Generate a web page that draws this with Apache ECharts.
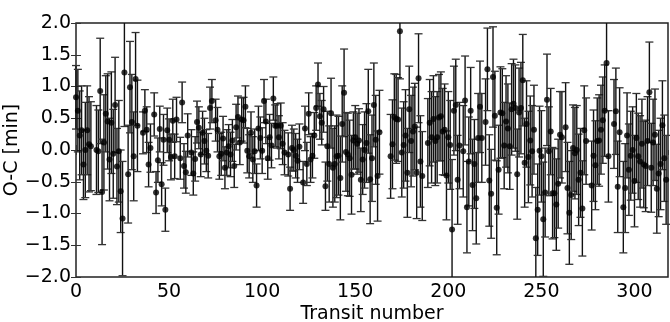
<!DOCTYPE html>
<html>
<head>
<meta charset="utf-8">
<script src="https://cdn.jsdelivr.net/npm/echarts@6/dist/echarts.min.js"></script>
<style>
html,body{margin:0;padding:0;background:#fff;}
#chart{width:670px;height:322px;}
</style>
</head>
<body>
<div id="chart"></div>
<script>
// Transit numbers (x)
const transitNumbers = [
  0,1,2,3,4,5,6,7,8,
  11,12,13,14,15,16,17,18,19,20,21,22,23,24,25,26,
  28,29,30,31,32,33,
  36,37,38,39,40,42,43,44,45,46,47,48,49,50,51,52,
  53,54,56,57,58,59,60,62,63,64,65,66,67,68,69,70,71,72,73,75,76,77,78,79,80,
  81,82,83,84,85,86,87,88,89,90,91,92,93,94,95,96,97,98,99,100,101,102,103,104,
  105,106,107,108,109,110,111,112,114,115,116,117,118,119,120,122,123,124,125,126,127,128,
  129,130,131,132,133,134,135,136,137,138,139,140,141,142,143,144,145,146,147,148,
  149,150,151,152,153,154,155,156,157,158,159,160,161,162,163,
  169,170,171,172,173,174,175,176,177,178,179,180,181,182,183,184,185,186,
  189,190,191,192,193,194,195,196,197,198,199,200,201,202,203,204,205,206,208,209,
  210,211,212,213,214,215,216,217,218,220,221,222,223,224,225,226,227,228,229,230,
  231,232,233,234,235,236,237,238,239,240,241,242,243,244,245,246,247,248,249,250,
  251,252,253,254,255,256,257,258,259,260,261,
  263,264,265,266,267,268,269,270,271,272,273,274,277,278,279,280,281,282,283,284,285,286,
  289,290,291,292,294,295,296,297,298,299,300,301,302,303,304,305,306,307,308,309,
  310,311,312,313,314,315,316,317
];
// O-C values [min]
const ocValues = [
  0.83,0.62,0.23,0.31,-0.23,0.0,0.31,0.09,0.06,
  0.0,-0.02,0.93,-0.66,0.12,0.57,0.45,-0.15,0.43,-0.06,0.71,-0.26,-0.02,-0.65,-1.08,1.22,
  -0.38,0.99,0.44,-0.1,1.12,0.38,
  0.27,0.62,0.32,-0.23,0.03,0.56,-0.67,-0.16,0.33,-0.54,0.16,-0.94,0.31,0.16,-0.11,0.46,
  -0.1,0.48,-0.13,0.75,-0.25,-0.35,0.23,-0.04,-0.37,-0.14,0.44,0.35,-0.07,0.27,0.14,-0.01,-0.09,0.66,0.77,0.47,0.32,-0.1,-0.06,0.18,-0.28,
  -0.04,0.06,-0.07,0.15,-0.25,0.36,0.52,0.12,0.48,0.47,0.68,-0.01,-0.1,0.27,-0.15,-0.02,-0.56,0.34,0.19,-0.01,0.77,0.45,-0.13,0.2,
  0.07,0.81,0.38,0.38,0.2,0.38,0.1,-0.04,-0.07,-0.61,0.03,0.0,-0.09,-0.17,0.05,-0.51,0.34,-0.22,0.57,-0.15,-0.09,0.23,
  0.66,1.03,0.53,0.43,0.64,-0.57,0.06,-0.22,0.58,-0.28,-0.22,-0.1,-0.09,-0.44,0.41,0.9,-0.03,-0.07,-0.13,-0.39,
  0.15,0.2,0.1,0.15,-0.47,-0.15,0.0,0.11,0.61,-0.46,-0.13,0.71,0.16,-0.41,0.28,
  -0.1,0.09,0.52,0.49,0.48,1.87,-0.04,0.08,0.23,-0.36,0.64,0.14,0.29,0.37,-0.36,1.13,-0.18,-0.41,
  0.11,0.43,0.2,0.49,0.14,0.2,0.51,0.53,0.29,0.32,-0.4,0.2,0.08,-1.25,0.62,0.71,-0.47,0.07,-0.02,0.78,
  -0.9,-0.18,0.62,-0.55,-0.22,-0.76,0.19,0.68,0.19,0.44,1.27,-0.48,-0.69,1.15,0.54,-0.91,-0.31,0.59,0.58,0.07,
  0.45,0.34,0.06,0.64,0.73,0.66,-0.38,0.59,0.66,1.1,-0.2,0.41,-0.11,0.15,-0.02,0.32,-1.39,-0.94,-0.01,-0.1,
  -1.09,-0.67,0.79,-0.02,0.29,-0.68,-0.68,-0.86,-0.53,0.24,0.2,
  0.36,-0.6,-0.99,-0.71,0.03,-0.05,0.0,-0.47,-0.36,-0.92,0.31,0.14,-0.56,-0.09,-0.24,0.14,0.15,0.32,0.47,0.62,1.37,-0.1,
  0.41,0.61,-0.58,0.28,-0.9,-0.6,0.23,-0.31,-0.09,0.0,-0.49,0.19,-0.1,-0.18,0.1,-0.23,-0.25,0.14,0.91,-0.28,
  0.12,0.24,-0.61,-0.37,-0.22,0.39,-0.13,-0.47
];
// 1-sigma uncertainties [min]
const ocErrors = [
  0.5,0.65,0.7,0.7,0.55,0.75,0.7,0.75,0.7,
  0.7,0.65,0.83,0.83,0.75,0.6,0.75,0.65,0.8,0.7,0.75,0.6,0.8,0.65,0.9,0.85,
  0.77,0.72,0.75,0.7,0.73,0.72,
  0.33,0.33,0.36,0.35,0.38,0.34,0.33,0.35,0.36,0.34,0.4,0.34,0.35,0.33,0.36,0.34,
  0.35,0.35,0.33,0.32,0.35,0.33,0.34,0.36,0.34,0.35,0.33,0.33,0.35,0.34,0.36,0.33,0.35,0.33,0.34,0.33,0.35,0.36,0.34,0.35,0.33,
  0.36,0.34,0.35,0.33,0.34,0.36,0.33,0.35,0.34,0.36,0.33,0.35,0.34,0.33,0.36,0.35,0.34,0.35,0.33,0.36,0.34,0.35,0.33,0.36,
  0.35,0.34,0.33,0.35,0.34,0.36,0.33,0.35,0.34,0.34,0.36,0.33,0.35,0.34,0.36,0.33,0.35,0.34,0.33,0.36,0.35,0.36,
  0.35,0.34,0.36,0.35,0.36,0.38,0.55,0.6,0.55,0.62,0.6,0.65,0.62,0.66,0.6,0.69,0.62,0.65,0.6,0.62,
  0.45,0.5,0.48,0.5,0.5,0.55,0.6,0.62,0.66,0.7,0.68,0.66,0.7,0.71,0.66,
  0.66,0.7,0.68,0.7,0.66,0.75,0.7,0.68,0.72,0.7,0.68,0.72,0.7,0.68,0.72,0.7,0.72,0.7,
  0.7,0.68,0.72,0.68,0.7,0.72,0.68,0.7,0.68,0.72,0.7,0.72,0.7,1.1,0.7,0.72,0.7,0.68,0.72,0.7,
  0.72,0.7,0.68,0.72,0.7,0.72,0.7,0.72,0.7,0.68,0.65,0.72,0.7,0.79,0.7,0.74,0.7,0.72,0.7,0.68,
  0.72,0.7,0.68,0.72,0.7,0.68,0.71,0.7,0.72,0.72,0.7,0.68,0.72,0.7,0.72,0.7,0.8,0.72,0.7,0.72,
  0.9,0.7,0.72,0.7,0.68,0.72,0.7,0.72,0.7,0.68,0.72,
  0.7,0.72,0.81,0.7,0.68,0.72,0.7,0.72,0.7,0.75,0.7,0.68,0.7,0.72,0.7,0.68,0.72,0.7,0.68,0.72,0.75,0.72,
  0.7,0.68,0.72,0.7,0.72,0.7,0.67,0.72,0.7,0.68,0.72,0.7,0.68,0.72,0.7,0.68,0.72,0.7,0.79,0.7,
  0.68,0.72,0.7,0.68,0.72,0.7,0.68,0.7
];
// Axis settings / tick labels
const xRange = [0, 318];
const yRange = [-2, 2];
const xTickStep = 50;
const yTickStep = 0.5;
const xTitle = 'Transit number';
const yTitle = 'O-C [min]';

const points = transitNumbers.map((t, i) => [t, ocValues[i], ocErrors[i]]);

const FONT = 'DejaVu Sans';
const fmtY = v => (v < 0 ? '\u2212' : '') + Math.abs(v).toFixed(1);
const fmtX = v => (v % 50 === 0 ? String(v) : '');

const tickStyle = { inside: true, length: 5, lineStyle: { color: '#333', width: 1 } };

const chart = echarts.init(document.getElementById('chart'), null, { renderer: 'canvas' });
chart.setOption({
  animation: false,
  backgroundColor: '#fff',
  grid: {
    left: 76, right: 2, top: 23, bottom: 45,
    outerBoundsMode: 'none', containLabel: false,
    show: true, borderColor: '#222', borderWidth: 1.5, backgroundColor: 'transparent'
  },
  xAxis: [
    {
      type: 'value', min: xRange[0], max: xRange[1], interval: xTickStep, position: 'bottom',
      axisLine: { show: false }, axisTick: tickStyle, splitLine: { show: false },
      axisLabel: { formatter: fmtX, showMaxLabel: false, color: '#000', fontFamily: FONT, fontSize: 19, margin: 6 },
      name: xTitle, nameLocation: 'middle', nameGap: 28, nameMoveOverlap: false,
      nameTextStyle: { color: '#000', fontFamily: FONT, fontSize: 19 }
    },
    {
      type: 'value', min: xRange[0], max: xRange[1], interval: xTickStep, position: 'top',
      axisLine: { show: false }, axisTick: tickStyle, splitLine: { show: false }, axisLabel: { show: false }
    }
  ],
  yAxis: [
    {
      type: 'value', min: yRange[0], max: yRange[1], interval: yTickStep, position: 'left',
      axisLine: { show: false }, axisTick: tickStyle, splitLine: { show: false },
      axisLabel: { formatter: fmtY, color: '#000', fontFamily: FONT, fontSize: 19, margin: 5 },
      name: yTitle, nameLocation: 'middle', nameGap: 54, nameRotate: 90, nameMoveOverlap: false,
      nameTextStyle: { color: '#000', fontFamily: FONT, fontSize: 19 }
    },
    {
      type: 'value', min: yRange[0], max: yRange[1], interval: yTickStep, position: 'right',
      axisLine: { show: false }, axisTick: tickStyle, splitLine: { show: false }, axisLabel: { show: false }
    }
  ],
  series: [
    {
      type: 'custom',
      xAxisIndex: 0, yAxisIndex: 0,
      data: points,
      silent: true,
      renderItem: function (params, api) {
        const x = api.value(0), v = api.value(1), e = api.value(2);
        const top = api.coord([x, v + e]);
        const bot = api.coord([x, v - e]);
        const cs = params.coordSys;
        const yMin = cs.y, yMax = cs.y + cs.height;
        const px = top[0];
        const y1 = Math.max(top[1], yMin), y2 = Math.min(bot[1], yMax);
        const children = [{
          type: 'line',
          shape: { x1: px, y1: y1, x2: px, y2: y2 },
          style: { stroke: '#111', lineWidth: 1.4 }
        }];
        const cw = 4;
        if (top[1] >= yMin) {
          children.push({ type: 'line', shape: { x1: px - cw, y1: top[1], x2: px + cw, y2: top[1] }, style: { stroke: '#333', lineWidth: 1.3 } });
        }
        if (bot[1] <= yMax) {
          children.push({ type: 'line', shape: { x1: px - cw, y1: bot[1], x2: px + cw, y2: bot[1] }, style: { stroke: '#333', lineWidth: 1.3 } });
        }
        return { type: 'group', children: children };
      },
      z: 2
    },
    {
      type: 'scatter',
      xAxisIndex: 0, yAxisIndex: 0,
      data: points.map(p => [p[0], p[1]]),
      symbol: 'circle', symbolSize: 6,
      itemStyle: { color: '#000' },
      silent: true,
      z: 3
    }
  ]
});
</script>
</body>
</html>
